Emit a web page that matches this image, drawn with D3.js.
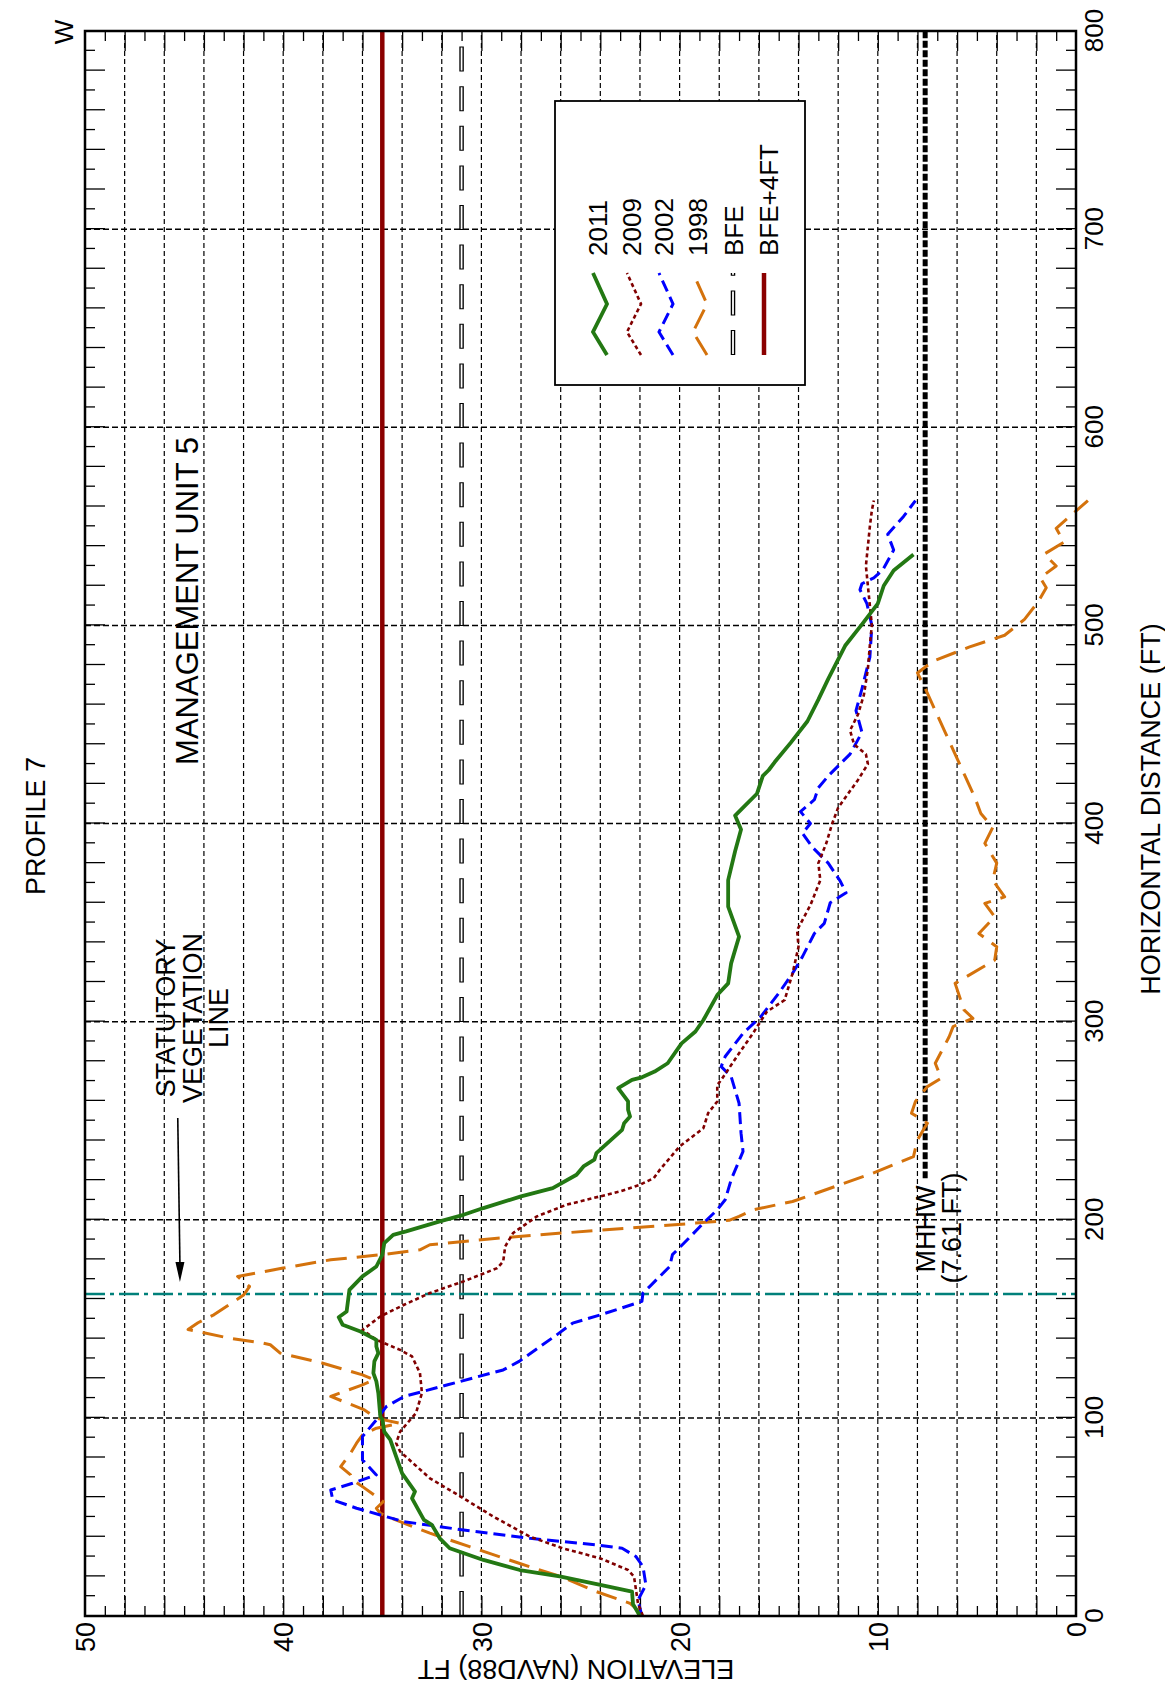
<!DOCTYPE html>
<html><head><meta charset="utf-8">
<script src="https://cdn.jsdelivr.net/npm/d3@7"></script>
<style>
body{margin:0;background:#fff}
text{font-family:"Liberation Sans",Arial,Helvetica,sans-serif;fill:#000}
</style>
</head><body>
<svg id="chart" width="1165" height="1689"></svg>
<script>
// ---------- DATA ----------
const dist2011=[0,6,12.3,15.7,20,23.2,28.3,34.2,39.2,46,48.5,59.4,62.8,72,80.5,89,93,99.3,100.7,112.5,118.4,122.6,128.5,132.7,136,139.4,143.6,147,150.8,153.7,164.6,171.4,176.4,182.3,188.2,192.4,194.1,199.2,202.5,205.9,211.8,216,222.7,226.9,230.3,233.6,245.4,248.7,252.1,255.5,259.7,266.4,270.6,271.9,274.8,279,289,295,300.8,313.4,319.3,329.4,342.9,358,371.4,386,397,404,408,415,424,427,431,440.7,451.6,462.5,473,489.7,500.5,511,520,527.7,535.8];
const elev2011=[22.0,22.35,22.4,24.0,26.05,28.06,29.9,31.6,32.1,32.5,32.9,33.5,33.35,34.0,34.3,34.6,34.9,35.0,35.1,35.2,35.3,35.45,35.4,35.2,35.3,35.3,36.1,37.0,37.2,36.8,36.66,36.0,35.3,35.0,34.9,34.45,33.8,32.1,30.9,29.9,28.0,26.4,25.2,24.85,24.3,24.2,22.9,22.8,22.5,22.6,22.6,23.1,22.4,21.9,21.26,20.6,19.9,19.2,18.8,18.1,17.55,17.4,17.0,17.55,17.55,17.2,16.9,17.2,16.8,16.1,15.8,15.5,15.2,14.4,13.55,13.0,12.5,11.65,10.8,10.0,9.7,9.2,8.2];

const dist2009=[0,6.4,19.9,23.2,29.1,34.2,40,50.2,60.3,69.5,83,87.2,93.1,102.4,112.5,122.6,131,134.3,139.4,144.4,151.2,157.1,163,168.9,175.6,179,186.5,193.3,201.7,207.6,214.3,217.7,221,225.2,237,246.2,253.8,259.7,268,270.6,284,294.1,305,310.9,324.4,337.8,346.2,358.8,371.4,380,390,400,408,415,422,430,435,440,447,455,465,478,490,500,510,520,530,540,550,558,563];
const elev2009=[21.85,22.1,22.3,22.6,24.0,25.9,27.55,29.4,31.05,32.6,34.1,34.3,34.1,33.3,33.0,33.1,33.5,34.1,35.3,36.0,35.1,33.9,32.6,30.9,29.2,28.9,28.8,28.4,27.2,25.7,23.0,22.0,21.3,21.0,20.0,18.8,18.56,18.1,18.1,17.9,17.0,16.3,15.6,14.7,14.3,14.0,14.07,13.4,12.9,13.0,12.6,12.3,12.0,11.5,11.0,10.5,10.6,11.2,11.4,11.0,10.7,10.5,10.4,10.3,10.4,10.5,10.6,10.5,10.4,10.3,10.2];

const dist2002=[0,8,15.7,25,30,34.2,35.9,39.2,43.4,47.6,51,54.4,58.6,63.6,67,71.2,78.8,90.6,99,105.7,110.8,116.7,124.2,128.5,141.9,147.8,152,158.8,163,166.4,176.4,182.4,190,198.3,205,210.1,215.1,220.2,234.5,243.7,258.8,272.3,277.3,282.4,294.1,302.5,314.3,324.4,332.8,344.5,349.6,360,365,371,380,388,395,400,406,412,418,424,435,446,457,468,484,500,511,518,521,524,528,538,546,555,563];
const elev2002=[21.9,22.1,21.7,21.85,22.2,22.9,24.2,27.55,30.9,33.9,35.1,36.3,37.5,37.6,36.5,35.3,36.0,36.0,35.3,34.8,33.9,31.7,28.9,28.1,26.2,25.4,24.0,21.9,21.85,21.5,20.5,20.36,19.6,18.8,18.1,17.7,17.55,17.4,16.8,16.9,17.0,17.4,17.9,17.7,16.8,15.9,15.0,14.3,13.8,13.2,12.7,12.4,11.6,11.9,12.5,13.3,13.8,13.4,13.9,13.2,13.0,12.5,11.4,10.8,11.1,10.8,10.4,10.3,10.55,10.9,10.8,10.2,9.75,9.2,9.5,8.7,8.1];

const dist1998=[0,3,6.4,12.3,19.9,26.6,35,41.8,47.6,51.8,54.4,57.7,60.3,65.3,68.7,71.2,75.4,82.2,87.2,91.4,94.8,97.3,99.8,104,110.8,116.7,119.2,121.7,127.6,132.7,136.9,137.7,140.2,144.6,148,152,158,162,166.3,171.4,175.6,179.8,182.3,184.8,187.4,190.7,193.3,195.8,198.3,199.7,201.7,205,209.2,223.5,231.9,240.3,248.7,253.8,259.7,267.2,271.4,279,292.4,297.5,301.7,305.9,319.3,331.1,337.8,344.5,352.9,359.7,363,371.4,380,390,398,405,413,424,435,446,457,468,476,482,489,495,503,512,519,524,530,536,542,549,556,563];
const elev1998=[22.0,22.1,22.5,24.2,26.0,28.1,30.6,32.6,34.1,35.1,35.3,34.95,35.3,36.0,36.5,36.6,37.1,36.6,36.3,36.0,35.3,34.1,35.3,35.9,37.6,36.0,35.4,36.0,38.0,40.15,40.65,41.0,42.7,44.8,44.3,43.5,42.6,42.0,41.7,42.3,40.0,37.6,35.1,33.1,32.6,29.2,25.9,22.5,19.2,17.5,17.0,16.3,14.3,10.25,8.2,8.0,7.5,8.3,8.1,7.5,6.8,7.1,6.4,6.2,5.2,5.65,6.1,4.1,4.0,4.9,4.1,4.6,3.6,4.2,4.0,4.6,4.2,4.8,5.1,5.6,6.1,6.6,7.1,7.6,8.0,7.2,5.4,3.6,2.6,1.9,1.5,1.8,1.0,1.6,0.6,1.0,0.2,-0.6];

const distTickLabels=[0,100,200,300,400,500,600,700,800];
const elevTickLabels=[0,10,20,30,40,50];
const BFE=31, BFE4=35, MHHW=7.61, mhhwStart=221, vegLine=162.5;
const seriesNames=["2011","2009","2002","1998"];
const legendLabels=["2011","2009","2002","1998","BFE","BFE+4FT"];

// ---------- LAYOUT ----------
const svg=d3.select("#chart");
svg.append("rect").attr("width",1165).attr("height",1689).attr("fill","#fff");
const W=1585, H=991;
const g=svg.append("g").attr("transform","translate(85,1616) rotate(-90)");
const x=d3.scaleLinear().domain([0,800]).range([0,W]);
const y=d3.scaleLinear().domain([0,50]).range([H,0]);

// grid
g.append("g").selectAll("line").data(d3.range(2,50,2)).join("line")
  .attr("x1",0).attr("x2",W).attr("y1",d=>y(d)).attr("y2",d=>y(d))
  .attr("stroke","#000").attr("stroke-width",1.2).attr("stroke-dasharray","5 3");
g.append("g").selectAll("line").data(d3.range(100,800,100)).join("line")
  .attr("x1",d=>x(d)).attr("x2",d=>x(d)).attr("y1",0).attr("y2",H)
  .attr("stroke","#000").attr("stroke-width",1.5).attr("stroke-dasharray","6 3");

// ticks via axes
function tickAxis(axis,tr,vals,size){
  const a=g.append("g").attr("transform",tr)
    .call(axis.tickValues(vals).tickSize(-size).tickFormat(""));
  a.select(".domain").remove();
  a.selectAll("line").attr("stroke","#000").attr("stroke-width",1.3);
}
const odd10=d3.range(10,800,20), even20=d3.range(20,800,20);
const oddFt=d3.range(1,50,2), evenFt=d3.range(2,50,2);
tickAxis(d3.axisBottom(x),`translate(0,${H})`,odd10,10);
tickAxis(d3.axisBottom(x),`translate(0,${H})`,even20,20);
tickAxis(d3.axisTop(x),`translate(0,0)`,odd10,10);
tickAxis(d3.axisTop(x),`translate(0,0)`,even20,20);
tickAxis(d3.axisLeft(y),`translate(0,0)`,oddFt,10);
tickAxis(d3.axisLeft(y),`translate(0,0)`,evenFt,20);
tickAxis(d3.axisRight(y),`translate(${W},0)`,oddFt,10);
tickAxis(d3.axisRight(y),`translate(${W},0)`,evenFt,20);

// labels
const ax1=g.append("g").attr("transform",`translate(0,${H})`)
  .call(d3.axisBottom(x).tickValues(distTickLabels).tickSize(0).tickPadding(9).tickFormat(d3.format("d")));
ax1.select(".domain").remove();
ax1.attr("font-size",26).attr("font-family","Liberation Sans, Arial, sans-serif");
const ax2=g.append("g")
  .call(d3.axisLeft(y).tickValues(elevTickLabels).tickSize(0).tickPadding(6).tickFormat(d3.format("d")));
ax2.select(".domain").remove();
ax2.attr("font-size",27).attr("font-family","Liberation Sans, Arial, sans-serif");
ax2.selectAll("text").attr("dy","0.36em");

// reference lines
const bfeLine=[[0,BFE],[800,BFE]];
const hline=d3.line().x(d=>x(d[0])).y(d=>y(d[1]));
g.append("path").attr("d",hline(bfeLine)).attr("fill","none").attr("stroke","#000")
  .attr("stroke-width",4.5).attr("stroke-dasharray","25 14.6");
g.append("path").attr("d",hline(bfeLine)).attr("fill","none").attr("stroke","#fff")
  .attr("stroke-width",1.8).attr("stroke-dasharray","23 16.6").attr("stroke-dashoffset",-1);
g.append("path").attr("d",hline([[mhhwStart,MHHW],[800,MHHW]])).attr("fill","none")
  .attr("stroke","#000").attr("stroke-width",5).attr("stroke-dasharray","7 2.5");
g.append("line").attr("x1",x(vegLine)).attr("x2",x(vegLine)).attr("y1",0).attr("y2",H)
  .attr("stroke","#00807a").attr("stroke-width",2.6).attr("stroke-dasharray","20 5 4 5");

// curves
const line=d3.line().x(d=>x(d[0])).y(d=>y(d[1]));
const styles={
  "1998":{c:"#d4720c",w:3,da:"21 10"},
  "2002":{c:"#0000ff",w:3,da:"12 6"},
  "2009":{c:"#800000",w:2.6,da:"4 3"},
  "2011":{c:"#237813",w:3.8,da:null}
};
const series={"2011":[dist2011,elev2011],"2009":[dist2009,elev2009],"2002":[dist2002,elev2002],"1998":[dist1998,elev1998]};
g.append("path").attr("d",hline([[0,BFE4],[800,BFE4]])).attr("fill","none")
  .attr("stroke","#8b0000").attr("stroke-width",4.5);
["1998","2002","2009","2011"].forEach(k=>{
  const s=styles[k];
  g.append("path").attr("d",line(d3.zip(series[k][0],series[k][1])))
   .attr("fill","none").attr("stroke",s.c).attr("stroke-width",s.w)
   .attr("stroke-linejoin","round").attr("stroke-dasharray",s.da);
});

// frame
g.append("rect").attr("x",0).attr("y",0).attr("width",W).attr("height",H)
  .attr("fill","none").attr("stroke","#000").attr("stroke-width",2.5);

// texts
const T=(px,py,txt,fs,anchor)=>g.append("text").attr("x",px).attr("y",py)
  .attr("font-size",fs).attr("text-anchor",anchor||"middle").text(txt);
T(790,-40,"PROFILE 7",27);
T(1584,-12,"W",26);
T(807,1075,"HORIZONTAL DISTANCE (FT)",27);
g.append("text").attr("transform","translate(-44,491) rotate(-90)")
  .attr("font-size",27).attr("text-anchor","middle").text("ELEVATION (NAVD88) FT");
T(1015,113,"MANAGEMENT UNIT 5",31);
T(598,90,"STATUTORY",27);
T(598,117,"VEGETATION",27);
T(598,143,"LINE",27);
T(387,850,"MHHW",27);
T(388,876,"(7.61 FT)",27);

// arrow
const aS=[x(251.4),y(45.32)], aT=[x(168.6),y(45.21)];
g.append("line").attr("x1",aS[0]).attr("y1",aS[1]).attr("x2",aT[0]+18).attr("y2",aT[1])
  .attr("stroke","#000").attr("stroke-width",1.6);
g.append("path").attr("d",`M${aT[0]},${aT[1]}L${aT[0]+20},${aT[1]-4.5}L${aT[0]+20},${aT[1]+4.5}Z`)
  .attr("fill","#000");

// legend
const lg=g.append("g");
lg.append("rect").attr("x",1231).attr("y",470).attr("width",284).attr("height",250)
  .attr("fill","#fff").attr("stroke","#000").attr("stroke-width",1.8);
const centers=[515,549,581,615];
seriesNames.forEach((k,i)=>{
  const c=centers[i], s=styles[k];
  lg.append("path").attr("d",`M1261,${c+7}L1284,${c-7}L1312,${c+7}L1343,${c-7}`)
    .attr("fill","none").attr("stroke",s.c).attr("stroke-width",s.w).attr("stroke-dasharray",s.da);
  lg.append("text").attr("x",1360).attr("y",c+7).attr("font-size",26).text(legendLabels[i]);
});
lg.append("line").attr("x1",1261).attr("x2",1343).attr("y1",648).attr("y2",648)
  .attr("stroke","#000").attr("stroke-width",4.5).attr("stroke-dasharray","25 14.6");
lg.append("line").attr("x1",1261).attr("x2",1343).attr("y1",648).attr("y2",648)
  .attr("stroke","#fff").attr("stroke-width",1.8).attr("stroke-dasharray","23 16.6").attr("stroke-dashoffset",-1);
lg.append("text").attr("x",1360).attr("y",658).attr("font-size",26).text(legendLabels[4]);
lg.append("line").attr("x1",1261).attr("x2",1343).attr("y1",679).attr("y2",679)
  .attr("stroke","#8b0000").attr("stroke-width",4.5);
lg.append("text").attr("x",1360).attr("y",693).attr("font-size",26).text(legendLabels[5]);
</script>
</body></html>
